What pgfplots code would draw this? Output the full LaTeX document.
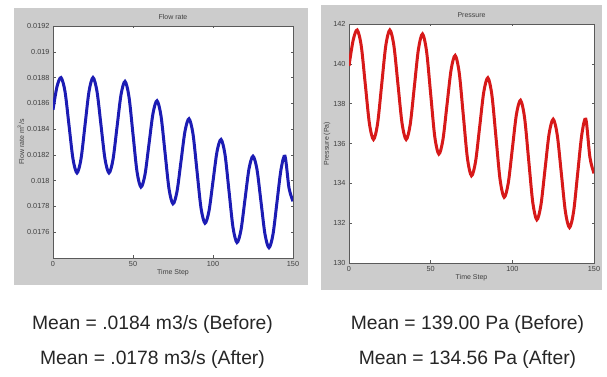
\documentclass[border=0pt]{standalone}
\usepackage{pgfplots}
\pgfplotsset{compat=1.18}
\usepackage{fontspec}
\setmainfont{Liberation Sans}
\definecolor{panel}{RGB}{204,204,204}
\definecolor{frame}{RGB}{90,90,90}
\definecolor{flowblue}{RGB}{28,28,180}
\definecolor{presred}{RGB}{215,25,25}
\pgfplotsset{
  matstyle/.style={
    scale only axis,
    axis background/.style={fill=white},
    axis line style={frame, line width=0.6pt},
    tick style={frame, line width=0.5pt},
    major tick length=2.5pt,
    tick align=inside,
    xmin=0, xmax=150,
    xtick={0,50,100,150},
    ticklabel style={font=\fontsize{7.3}{8}\selectfont, text=black!75},
    label style={font=\fontsize{7}{8}\selectfont, text=black!75},
    title style={font=\fontsize{7}{8}\selectfont, text=black!75},
    /pgf/number format/assume math mode=true,
    xlabel={Time Step},
    xlabel style={yshift=4pt},
    ylabel style={yshift=-4pt},
  }
}
\begin{document}
\begin{tikzpicture}[x=1pt,y=1pt]
\fill[white] (0,0) rectangle (607,377);
\fill[panel] (14,92) rectangle (308,369);
\fill[panel] (321,87) rectangle (602,372);
\begin{axis}[matstyle,
  at={(53pt,119pt)}, anchor=south west,
  width=240pt, height=232pt,
  ymin=0.0174, ymax=0.0192,
  ytick={0.0176,0.0178,0.018,0.0182,0.0184,0.0186,0.0188,0.019,0.0192},
  yticklabels={0.0176,0.0178,0.018,0.0182,0.0184,0.0186,0.0188,0.019,0.0192},
  scaled y ticks=false,
  title={Flow rate}, title style={yshift=-3pt},
  ylabel={Flow rate m\textsuperscript{3}/s},
]
\addplot[flowblue, line width=3pt, smooth] coordinates {
(0,0.01855)(2.5,0.01873)(5,0.01880)
(7.5,0.018692)(10,0.01843)(12.5,0.018168)(15,0.01806)
(17.5,0.018168)(20,0.01843)(22.5,0.018692)(25,0.01880)
(27.5,0.018692)(30,0.01843)(32.5,0.018168)(35,0.01806)
(37.5,0.018164)(40,0.018415)(42.5,0.018666)(45,0.01877)
(47.5,0.01865)(50,0.01836)(52.5,0.01807)(55,0.01795)
(57.5,0.018048)(60,0.018285)(62.5,0.018522)(65,0.01862)
(67.5,0.018503)(70,0.01822)(72.5,0.017937)(75,0.01782)
(77.5,0.017916)(80,0.01815)(82.5,0.018384)(85,0.01848)
(87.5,0.018362)(90,0.018075)(92.5,0.017788)(95,0.01767)
(97.5,0.017765)(100,0.017995)(102.5,0.018225)(105,0.01832)
(107.5,0.018203)(110,0.01792)(112.5,0.017637)(115,0.01752)
(117.5,0.017618)(120,0.017855)(122.5,0.018092)(125,0.01819)
(127.5,0.018086)(130,0.017835)(132.5,0.017584)(135,0.01748)
(137.5,0.017584)(140,0.017835)(142.5,0.018086)(145,0.01819)
(147.5,0.017943)(150,0.01784)
};
\end{axis}
\begin{axis}[matstyle,
  at={(349pt,114pt)}, anchor=south west,
  width=245pt, height=239pt,
  ymin=130, ymax=142,
  ytick={130,132,134,136,138,140,142},
  title={Pressure}, title style={yshift=-3pt},
  ylabel={Pressure (Pa)},
]
\addplot[presred, line width=3pt, smooth] coordinates {
(0,139.9)(2.5,141.17)(5,141.7)
(7.5,140.90)(10,138.95)(12.5,137.00)(15,136.2)
(17.5,137.00)(20,138.95)(22.5,140.90)(25,141.7)
(27.5,140.90)(30,138.95)(32.5,137.00)(35,136.2)
(37.5,136.97)(40,138.85)(42.5,140.73)(45,141.5)
(47.5,140.62)(50,138.485)(52.5,136.35)(55,135.47)
(57.5,136.19)(60,137.945)(62.5,139.70)(65,140.42)
(67.5,139.54)(70,137.40)(72.5,135.26)(75,134.38)
(77.5,135.10)(80,136.84)(82.5,138.58)(85,139.3)
(87.5,138.42)(90,136.3)(92.5,134.18)(95,133.3)
(97.5,134.01)(100,135.735)(102.5,137.46)(105,138.17)
(107.5,137.29)(110,135.17)(112.5,133.05)(115,132.17)
(117.5,132.91)(120,134.695)(122.5,136.48)(125,137.22)
(127.5,136.43)(130,134.5)(132.5,132.57)(135,131.78)
(137.5,132.57)(140,134.5)(142.5,136.43)(145,137.22)
(147.5,135.30)(150,134.5)
};
\end{axis}
\node[anchor=base, font=\fontsize{19.3}{22}\selectfont, text=black!85] at (152.5,47) {Mean = .0184 m3/s (Before)};
\node[anchor=base, font=\fontsize{19.3}{22}\selectfont, text=black!85] at (152.5,12) {Mean = .0178 m3/s (After)};
\node[anchor=base, font=\fontsize{19.3}{22}\selectfont, text=black!85] at (467.5,47) {Mean = 139.00 Pa (Before)};
\node[anchor=base, font=\fontsize{19.3}{22}\selectfont, text=black!85] at (467.5,12) {Mean = 134.56 Pa (After)};
\end{tikzpicture}
\end{document}
